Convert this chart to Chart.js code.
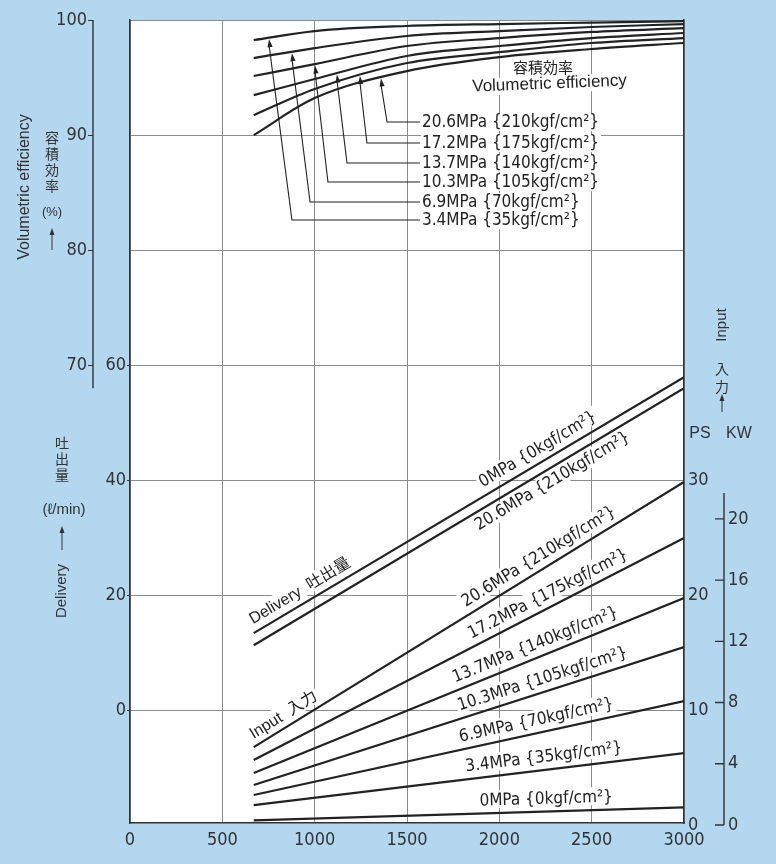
<!DOCTYPE html>
<html lang="ja">
<head>
    <meta charset="UTF-8">
    <title>容積効率・吐出量・入力</title>
    <style>
        html, body {
            margin: 0;
            padding: 0;
            background-color: #b4d7f0;
        }
        #chart {
            display: block;
        }
    </style>
</head>
<body>
    <canvas id="chart" width="776" height="864"></canvas>
    <script src="https://cdn.jsdelivr.net/npm/chart.js"></script>
    <script>
        // Pump speed (min-1)
        const speedTicks = [0, 500, 1000, 1500, 2000, 2500, 3000];
        const speedCurve = [670, 1000, 1500, 2000, 2500, 3000];
        const speedLine = [670, 3000];

        // Volumetric efficiency (%) per pressure
        const volEff34 = [98.26, 99.04, 99.48, 99.65, 99.78, 99.91];
        const volEff69 = [96.69, 97.56, 98.61, 99.04, 99.39, 99.65];
        const volEff103 = [95.13, 96.17, 97.74, 98.43, 98.96, 99.30];
        const volEff137 = [93.47, 94.87, 96.87, 97.74, 98.43, 98.87];
        const volEff172 = [91.73, 94.00, 96.26, 97.20, 98.00, 98.43];
        const volEff206 = [89.99, 93.21, 95.56, 96.78, 97.48, 98.00];

        // Delivery (l/min)
        const delivery0 = [13.4, 57.9];
        const delivery206 = [11.3, 56.0];

        // Input (PS)
        const input206 = [6.8, 29.84];
        const input172 = [5.67, 24.97];
        const input137 = [4.54, 19.76];
        const input103 = [3.5, 15.5];
        const input69 = [2.63, 10.8];
        const input34 = [1.76, 6.28];
        const input0 = [0.42, 1.55];

        // Tick labels
        const volTicks = [70, 80, 90, 100];
        const deliveryTicks = [0, 20, 40, 60];
        const psTicks = [0, 10, 20, 30];
        const kwTicks = [0, 4, 8, 12, 16, 20];

        const pressureNames = [
            '3.4MPa {35kgf/cm²}', '6.9MPa {70kgf/cm²}', '10.3MPa {105kgf/cm²}',
            '13.7MPa {140kgf/cm²}', '17.2MPa {175kgf/cm²}', '20.6MPa {210kgf/cm²}'
        ];
        const zeroName = '0MPa {0kgf/cm²}';

        // all y axes share one pixel grid: vol 100 at top, PS 0 at bottom
        const VOL_MIN = 30.2;
        const KW_MIN = 0.13, KW_MAX = 52.6;

        const ink = '#222222';
        const gridGray = '#8c8c8c';
        const narrow = '"DejaVu Sans Condensed", "Liberation Sans", sans-serif';
        const plain = '"Liberation Sans", "Noto Sans CJK JP", sans-serif';
        const cjk = '"Noto Sans CJK JP", sans-serif';
        const noteFont = '17px ' + narrow;

        const volSeries = [volEff34, volEff69, volEff103, volEff137, volEff172, volEff206];
        const inputSeries = [input206, input172, input137, input103, input69, input34, input0];

        const lineStyle = { borderColor: ink, borderWidth: 2.2, pointRadius: 0, fill: false };

        const datasets = [];
        volSeries.forEach((vals, i) => {
            datasets.push(Object.assign({
                label: pressureNames[i],
                yAxisID: 'yVol',
                cubicInterpolationMode: 'monotone',
                data: speedCurve.map((x, j) => ({ x: x, y: vals[j] }))
            }, lineStyle));
        });
        datasets.push(Object.assign({ label: 'Delivery 0MPa', yAxisID: 'yDel',
            data: speedLine.map((x, j) => ({ x: x, y: delivery0[j] })) }, lineStyle));
        datasets.push(Object.assign({ label: 'Delivery 20.6MPa', yAxisID: 'yDel',
            data: speedLine.map((x, j) => ({ x: x, y: delivery206[j] })) }, lineStyle));
        inputSeries.forEach((vals, i) => {
            datasets.push(Object.assign({ label: 'Input ' + i, yAxisID: 'yPS',
                data: speedLine.map((x, j) => ({ x: x, y: vals[j] })) }, lineStyle));
        });

        // labels written along the straight lines (dataset index, start speed)
        const slopedNotes = [
            { ds: 6, rpm: 688, text: 'Delivery  吐出量', gap: 8, font: '16px ' + plain },
            { ds: 6, rpm: 1933, text: zeroName, gap: 8 },
            { ds: 7, rpm: 1841, text: pressureNames[5], gap: 4, below: true },
            { ds: 8, rpm: 688, text: 'Input  入力', gap: 7, font: '16px ' + plain },
            { ds: 8, rpm: 1841, text: pressureNames[5], gap: 8 },
            { ds: 9, rpm: 1868, text: pressureNames[4], gap: 8 },
            { ds: 10, rpm: 1776, text: pressureNames[3], gap: 8 },
            { ds: 11, rpm: 1798, text: pressureNames[2], gap: 8 },
            { ds: 12, rpm: 1798, text: pressureNames[1], gap: 8 },
            { ds: 13, rpm: 1825, text: pressureNames[0], gap: 8 },
            { ds: 14, rpm: 1895, text: zeroName, gap: 8 }
        ];

        // leader list for the efficiency curves
        const listRpm = 1581;
        const volNotes = [
            { ds: 5, labelVol: 91.13, corner: 1392, arrow: 1359 },
            { ds: 4, labelVol: 89.31, corner: 1283, arrow: 1245 },
            { ds: 3, labelVol: 87.57, corner: 1175, arrow: 1121 },
            { ds: 2, labelVol: 85.92, corner: 1072, arrow: 1002 },
            { ds: 1, labelVol: 84.18, corner: 975, arrow: 877 },
            { ds: 0, labelVol: 82.61, corner: 877, arrow: 753 }
        ];

        function slopedLabel(chart, n, bg) {
            const ctx = chart.ctx;
            const pts = chart.getDatasetMeta(n.ds).data;
            const a = pts[0], b = pts[pts.length - 1];
            const ang = Math.atan2(b.y - a.y, b.x - a.x);
            const px = chart.scales.x.getPixelForValue(n.rpm);
            const py = a.y + (px - a.x) * (b.y - a.y) / (b.x - a.x);
            ctx.save();
            ctx.translate(px, py);
            ctx.rotate(ang);
            ctx.font = n.font || noteFont;
            const w = ctx.measureText(n.text).width;
            if (bg) {
                ctx.fillStyle = '#ffffff';
                if (n.below) ctx.fillRect(-2, n.gap - 1, w + 4, 18);
                else ctx.fillRect(-2, -n.gap - 15, w + 4, 18);
            } else {
                ctx.fillStyle = ink;
                ctx.textBaseline = n.below ? 'top' : 'alphabetic';
                ctx.fillText(n.text, 0, n.below ? n.gap : -n.gap);
            }
            ctx.restore();
        }

        function volLeaders(chart, bg) {
            const ctx = chart.ctx;
            const xs = chart.scales.x, ys = chart.scales.yVol;
            const lx = xs.getPixelForValue(listRpm);
            ctx.save();
            ctx.font = noteFont;
            ctx.textBaseline = 'middle';
            volNotes.forEach(n => {
                const ly = ys.getPixelForValue(n.labelVol);
                const text = pressureNames[n.ds];
                const w = ctx.measureText(text).width;
                if (bg) {
                    ctx.fillStyle = '#ffffff';
                    ctx.fillRect(lx - 1, ly - 9, w + 3, 18);
                    return;
                }
                ctx.fillStyle = ink;
                ctx.fillText(text, lx, ly + 1);
                const cx = xs.getPixelForValue(n.corner);
                const tip = chart.getDatasetMeta(n.ds).dataset.interpolate({ x: xs.getPixelForValue(n.arrow) }, 'x');
                const tx = tip.x, ty = tip.y + 1.5;
                ctx.strokeStyle = ink;
                ctx.lineWidth = 1.1;
                ctx.beginPath();
                ctx.moveTo(lx - 2, ly);
                ctx.lineTo(cx, ly);
                ctx.lineTo(tx, ty + 6);
                ctx.stroke();
                // arrow head
                const dx = tx - cx, dy = ty - ly, len = Math.hypot(dx, dy);
                const ux = dx / len, uy = dy / len;
                ctx.beginPath();
                ctx.moveTo(tx, ty);
                ctx.lineTo(tx - 8 * ux - 2.6 * uy, ty - 8 * uy + 2.6 * ux);
                ctx.lineTo(tx - 8 * ux + 2.6 * uy, ty - 8 * uy - 2.6 * ux);
                ctx.closePath();
                ctx.fill();
            });
            ctx.restore();
        }

        function caption(chart, bg) {
            const ctx = chart.ctx;
            const xs = chart.scales.x, ys = chart.scales.yVol;
            ctx.save();
            ctx.textAlign = 'center';
            ctx.textBaseline = 'middle';
            const jx = xs.getPixelForValue(2236), jy = ys.getPixelForValue(95.9);
            const ex = xs.getPixelForValue(2272), ey = ys.getPixelForValue(94.45);
            if (bg) {
                ctx.fillStyle = '#ffffff';
                ctx.fillRect(jx - 36, jy - 8, 72, 16);
                ctx.translate(ex, ey);
                ctx.rotate(-0.04);
                ctx.fillRect(-84, -8, 168, 17);
            } else {
                ctx.fillStyle = ink;
                ctx.font = '15px ' + cjk;
                ctx.fillText('容積効率', jx, jy);
                ctx.translate(ex, ey);
                ctx.rotate(-0.04);
                ctx.font = '17px ' + plain;
                ctx.fillText('Volumetric efficiency', 0, 0);
            }
            ctx.restore();
        }

        function upArrow(ctx, x, yFrom, yTo) {
            ctx.beginPath();
            ctx.moveTo(x, yFrom);
            ctx.lineTo(x, yTo + 5);
            ctx.stroke();
            ctx.beginPath();
            ctx.moveTo(x, yTo);
            ctx.lineTo(x - 2.5, yTo + 7);
            ctx.lineTo(x + 2.5, yTo + 7);
            ctx.closePath();
            ctx.fill();
        }

        function axisExtras(chart) {
            const ctx = chart.ctx;
            const yVol = chart.scales.yVol, yKW = chart.scales.yKW;
            ctx.save();
            ctx.strokeStyle = '#333333';
            ctx.fillStyle = '#333333';
            ctx.lineWidth = 1.4;

            // short spine of the efficiency scale
            ctx.beginPath();
            ctx.moveTo(yVol.right, yVol.getPixelForValue(100));
            ctx.lineTo(yVol.right, yVol.getPixelForValue(68));
            ctx.stroke();

            // kW scale spine with inward ticks
            const kx = yKW.left;
            ctx.beginPath();
            ctx.moveTo(kx, yKW.getPixelForValue(0));
            ctx.lineTo(kx, yKW.getPixelForValue(21.7));
            kwTicks.forEach(v => {
                const y = yKW.getPixelForValue(v);
                ctx.moveTo(kx - 9, y);
                ctx.lineTo(kx, y);
            });
            ctx.stroke();

            // axis titles
            ctx.textAlign = 'center';
            ctx.textBaseline = 'middle';
            ctx.font = '16px ' + plain;
            ctx.save();
            ctx.translate(25, 187);
            ctx.rotate(-Math.PI / 2);
            ctx.fillText('Volumetric efficiency', 0, 0);
            ctx.restore();

            ctx.font = '14px ' + cjk;
            ['容', '積', '効', '率'].forEach((c, i) => ctx.fillText(c, 52, 138 + i * 16));
            ctx.font = '13px ' + plain;
            ctx.fillText('(%)', 52, 212);
            ctx.lineWidth = 1;
            upArrow(ctx, 52, 250, 228);

            ctx.font = '14px ' + cjk;
            ['吐', '出', '量'].forEach((c, i) => ctx.fillText(c, 62, 443 + i * 16));
            ctx.font = '15px ' + plain;
            ctx.fillText('(ℓ/min)', 64, 510);
            upArrow(ctx, 62, 550, 526);
            ctx.save();
            ctx.translate(62, 591);
            ctx.rotate(-Math.PI / 2);
            ctx.font = '15px ' + plain;
            ctx.fillText('Delivery', 0, 0);
            ctx.restore();

            ctx.save();
            ctx.translate(722, 325);
            ctx.rotate(-Math.PI / 2);
            ctx.font = '15px ' + plain;
            ctx.fillText('Input', 0, 0);
            ctx.restore();
            ctx.font = '14px ' + cjk;
            ctx.fillText('入', 722, 369);
            ctx.fillText('力', 722, 387);
            upArrow(ctx, 722, 412, 394);
            ctx.font = '16px ' + plain;
            ctx.fillText('PS', 700, 434);
            ctx.fillText('KW', 739, 434);
            ctx.restore();
        }

        const notesPlugin = {
            id: 'notes',
            beforeDraw(chart) {
                const { ctx, chartArea: a } = chart;
                ctx.save();
                ctx.fillStyle = '#ffffff';
                ctx.fillRect(a.left, a.top, a.right - a.left, a.bottom - a.top);
                ctx.restore();
            },
            beforeDatasetsDraw(chart) {
                slopedNotes.forEach(n => slopedLabel(chart, n, true));
                volLeaders(chart, true);
                caption(chart, true);
            },
            afterDatasetsDraw(chart) {
                slopedNotes.forEach(n => slopedLabel(chart, n, false));
                volLeaders(chart, false);
                caption(chart, false);
                axisExtras(chart);
            }
        };

        const tickFont = { family: narrow, size: 18 };
        const plainNumber = v => String(v);
        const setTicks = list => axis => { axis.ticks = list.map(v => ({ value: v })); };

        new Chart(document.getElementById('chart'), {
            type: 'line',
            data: { datasets: datasets },
            options: {
                responsive: false,
                animation: false,
                layout: { padding: { top: 20, left: 0, right: 0, bottom: 0 } },
                plugins: {
                    legend: { display: false },
                    tooltip: { enabled: false }
                },
                scales: {
                    x: {
                        type: 'linear',
                        min: 0,
                        max: 3000,
                        afterBuildTicks: setTicks(speedTicks),
                        afterFit: s => { s.height = 41; },
                        grid: { color: gridGray, lineWidth: 1, drawTicks: false },
                        border: { color: '#333333', width: 1.5 },
                        ticks: { color: '#333333', font: tickFont, padding: 7, maxRotation: 0, autoSkip: false, callback: plainNumber }
                    },
                    yVol: {
                        type: 'linear',
                        position: 'left',
                        weight: 10,
                        min: VOL_MIN,
                        max: 100,
                        afterBuildTicks: setTicks(volTicks),
                        afterFit: s => { s.width = 93; },
                        grid: { color: gridGray, tickColor: '#333333', tickLength: 5 },
                        border: { display: false },
                        ticks: { color: '#333333', font: tickFont, padding: 1, autoSkip: false, callback: plainNumber }
                    },
                    yDel: {
                        type: 'linear',
                        position: 'left',
                        weight: 0,
                        min: 2 * (VOL_MIN - 40),
                        max: 120,
                        afterBuildTicks: setTicks(deliveryTicks),
                        afterFit: s => { s.width = 37; },
                        grid: { color: gridGray, tickColor: '#333333', tickLength: 3 },
                        border: { color: '#333333', width: 1.5 },
                        ticks: { color: '#333333', font: tickFont, padding: 1, autoSkip: false, callback: plainNumber }
                    },
                    yPS: {
                        type: 'linear',
                        position: 'right',
                        weight: 0,
                        min: VOL_MIN - 30,
                        max: 70,
                        afterBuildTicks: setTicks(psTicks),
                        afterFit: s => { s.width = 40; },
                        grid: { drawOnChartArea: false, drawTicks: false },
                        border: { color: '#333333', width: 1.5 },
                        ticks: { color: '#333333', font: tickFont, padding: 4, autoSkip: false, callback: plainNumber }
                    },
                    yKW: {
                        type: 'linear',
                        position: 'right',
                        weight: 10,
                        min: KW_MIN,
                        max: KW_MAX,
                        afterBuildTicks: setTicks(kwTicks),
                        afterFit: s => { s.width = 52; },
                        grid: { drawOnChartArea: false, drawTicks: false },
                        border: { display: false },
                        ticks: { color: '#333333', font: tickFont, padding: 4, autoSkip: false, callback: plainNumber }
                    }
                }
            },
            plugins: [notesPlugin]
        });
    </script>
</body>
</html>
